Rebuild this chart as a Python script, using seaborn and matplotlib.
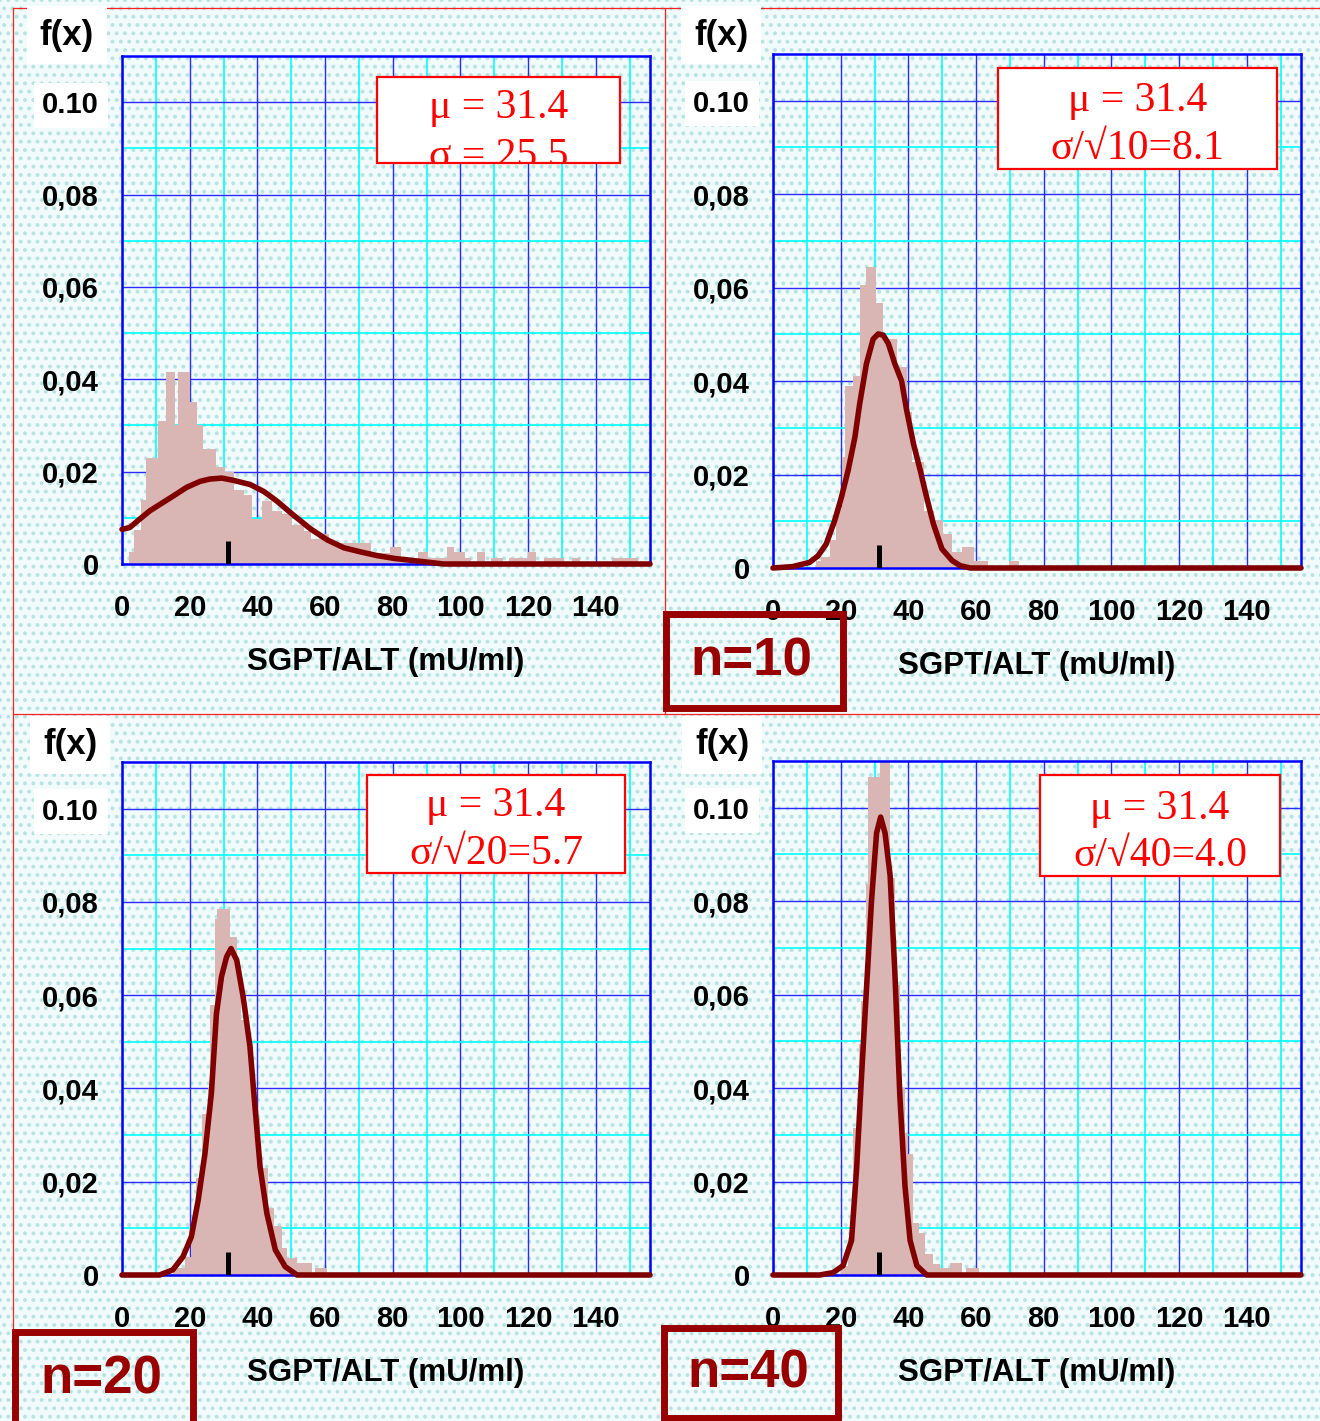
import numpy as np
import pandas as pd
import matplotlib
matplotlib.use("Agg")
import matplotlib.pyplot as plt
import seaborn as sns
from matplotlib.patches import Rectangle
from matplotlib.lines import Line2D

# ---------------- data ----------------
x_ticks = [0, 20, 40, 60, 80, 100, 120, 140]
x_tick_labels = ["0", "20", "40", "60", "80", "100", "120", "140"]
x_minor = [10, 30, 50, 70, 90, 110, 130, 150]
y_ticks = [0, 0.02, 0.04, 0.06, 0.08, 0.10]
y_tick_labels = ["0", "0,02", "0,04", "0,06", "0,08", "0.10"]
y_minor = [0.01, 0.03, 0.05, 0.07, 0.09]
x_label = "SGPT/ALT (mU/ml)"
y_label = "f(x)"
mean_value = 31.4
mean_marker_height = 0.0049

# n = 1 (population)
tl_edges = [2.0, 3.5, 5.5, 7.2, 10.5, 12.9, 15.8, 16.6, 20.1, 22.1, 23.8, 27.8, 30.3,
            33.2, 35.9, 38.4, 41.4, 44.4, 47.3, 50.3, 53.8, 55.7, 58.2, 61.2, 73.6,
            79.3, 82.3, 85.2, 87.4, 90.4, 92.4, 95.9, 98.1, 101.3, 103.0, 104.9, 107.2,
            108.9, 112.7, 114.2, 119.9, 122.3, 124.6, 130.5, 133.0, 135.4, 144.9, 152.6]
tl_heights = [0.0026, 0.0074, 0.0138, 0.023, 0.031, 0.0415, 0.030, 0.0415, 0.035, 0.030,
              0.025, 0.021, 0.020, 0.016, 0.015, 0.0097, 0.0136, 0.0115, 0.0108, 0.0085,
              0.0072, 0.0055, 0.0065, 0.0045, 0.0023, 0.0036, 0.0014, 0.0013, 0.0025,
              0.0013, 0.0013, 0.0036, 0.0025, 0.0013, 0.0, 0.0025, 0.0, 0.0013, 0.0,
              0.0013, 0.0025, 0.0, 0.0013, 0.0, 0.0013, 0.0, 0.0013]
tl_curve_x = [0, 2.3, 5.2, 8.2, 11.2, 15.1, 19.1, 23.1, 26.0, 29.5, 33.0, 37.9, 41.9,
              45.8, 50.3, 55.7, 60.7, 65.6, 70.6, 75.5, 80.5, 85.4, 91.4, 95.0, 156]
tl_curve_y = [0.0075, 0.0079, 0.0097, 0.0115, 0.0129, 0.0147, 0.0166, 0.0179, 0.0184,
              0.0186, 0.0181, 0.0172, 0.0157, 0.0136, 0.0108, 0.0076, 0.0052, 0.0035,
              0.0026, 0.0018, 0.0012, 0.0008, 0.0003, 0.0, 0.0]
tl_stats = ["μ = 31.4", "σ = 25.5"]

# n = 10
tr_edges = [12.8, 14.3, 16.7, 18.7, 20.4, 21.2, 23.7, 25.6, 27.4, 30.4, 32.4, 36.5, 39.5,
            41.0, 44.5, 47.6, 50.2, 52.9, 55.8, 59.3, 63.5, 69.7, 72.7]
tr_heights = [0.0016, 0.0024, 0.006, 0.013, 0.0237, 0.039, 0.041, 0.0605, 0.0644, 0.0567,
              0.049, 0.043, 0.0334, 0.0226, 0.0123, 0.0103, 0.0073, 0.0034, 0.0044,
              0.0014, 0.0, 0.0014]
tr_curve_x = [0, 5.8, 10.8, 13.3, 15.7, 18.2, 20.2, 22.2, 24.2, 25.6, 27.6, 29.6, 31.1,
              32.6, 34.1, 36.0, 38.0, 39.5, 41.5, 43.5, 45.4, 47.4, 49.9, 52.9, 55.3,
              58.3, 156]
tr_curve_y = [0, 0.0003, 0.0012, 0.0026, 0.0051, 0.0101, 0.0151, 0.0209, 0.028, 0.0351,
              0.0437, 0.049, 0.0501, 0.0498, 0.048, 0.0437, 0.040, 0.0337, 0.0266,
              0.0209, 0.0151, 0.0094, 0.0041, 0.0016, 0.0005, 0.0, 0.0]
tr_stats = ["μ = 31.4", "σ/√10=8.1"]

# n = 20
bl_edges = [15.0, 18.5, 20.5, 21.8, 23.5, 25.4, 25.9, 27.4, 28.1, 31.9, 33.9, 35.3, 37.3,
            38.8, 40.8, 43.0, 44.9, 47.2, 48.7, 51.7, 56.1, 57.1, 60.6]
bl_heights = [0.0014, 0.0039, 0.010, 0.0207, 0.0346, 0.040, 0.058, 0.0764, 0.0784, 0.0725,
              0.0655, 0.0546, 0.0496, 0.0336, 0.0229, 0.0143, 0.0104, 0.0057, 0.0036,
              0.0025, 0.0, 0.0016]
bl_curve_x = [0, 11.1, 15.0, 18.0, 20.5, 22.5, 24.5, 26.4, 27.9, 29.4, 30.9, 32.2, 33.9,
              35.8, 37.8, 39.3, 40.8, 42.8, 45.3, 48.2, 51.7, 156]
bl_curve_y = [0, 0, 0.0011, 0.0039, 0.0082, 0.016, 0.026, 0.0389, 0.056, 0.064, 0.0682,
              0.070, 0.0675, 0.0596, 0.049, 0.036, 0.0232, 0.0132, 0.0054, 0.0018, 0.0, 0.0]
bl_stats = ["μ = 31.4", "σ/√20=5.7"]

# n = 40
br_edges = [20.2, 22.2, 23.7, 25.4, 26.1, 27.4, 28.1, 31.6, 34.6, 36.0, 37.5, 39.0, 40.0,
            41.5, 43.0, 45.0, 47.4, 49.4, 52.4, 55.8, 57.1, 60.8]
br_heights = [0.002, 0.008, 0.0315, 0.0495, 0.0587, 0.0836, 0.1066, 0.1103, 0.085, 0.062,
              0.040, 0.0304, 0.0258, 0.0112, 0.0090, 0.0045, 0.0024, 0.0014, 0.0025, 0.0,
              0.0014]
br_curve_x = [0, 13.8, 17.7, 20.7, 23.2, 24.7, 26.1, 27.6, 29.1, 30.6, 31.8, 33.1, 34.6,
              36.0, 37.5, 39.0, 40.5, 42.5, 45.4, 156]
br_curve_y = [0, 0, 0.0005, 0.002, 0.0074, 0.0227, 0.0418, 0.061, 0.080, 0.0946, 0.098,
              0.0946, 0.0855, 0.0648, 0.038, 0.019, 0.0074, 0.002, 0.0, 0.0]
br_stats = ["μ = 31.4", "σ/√40=4.0"]

sample_labels = ["n=10", "n=20", "n=40"]

# ---------------- style ----------------
sns.set_theme(style="white")
plt.rcParams["font.family"] = ["Liberation Sans", "DejaVu Sans"]
plt.rcParams["hatch.linewidth"] = 1.6
plt.rcParams["text.color"] = "black"
plt.rcParams["axes.labelcolor"] = "black"

W, H = 1320, 1421
BAR = "#d9b5b3"
CURVE = "#800000"
BLUE = "#2a2aff"
CYAN = "#00ffff"
SPINE = "#0000ff"
DARKRED = "#990000"
SERIF = ["Liberation Serif", "DejaVu Serif"]


def fx(x):
    return x / W


def fy(y):
    return 1 - y / H


fig = plt.figure(figsize=(W / 100, H / 100), dpi=100)
fig.patch.set_facecolor("white")
fig.patches.append(Rectangle((0, 0), 1, 1, transform=fig.transFigure, facecolor="#f1fbfb",
                             edgecolor="#b9e2e2", hatch="..", lw=0, zorder=-10))

# thin red panel borders
for (x0, y0, x1, y1) in [(13, 8, 13, 1421), (13, 8, 1320, 8), (665, 8, 665, 714),
                         (13, 714, 1320, 714)]:
    fig.add_artist(Line2D([fx(x0), fx(x1)], [fy(y0), fy(y1)], transform=fig.transFigure,
                          color="#ff2020", lw=0.9, zorder=-5))

panels = [
    dict(box=(122, 56, 650, 564), edges=tl_edges, heights=tl_heights, cx=tl_curve_x,
         cy=tl_curve_y, stats=tl_stats, sbox=(377, 77, 620, 163), sbase=(118, 167),
         fxy=(67, 35)),
    dict(box=(773, 54, 1301, 568), edges=tr_edges, heights=tr_heights, cx=tr_curve_x,
         cy=tr_curve_y, stats=tr_stats, sbox=(998, 68, 1277, 169), sbase=(111, 159),
         fxy=(721, 35)),
    dict(box=(122, 762, 650, 1275), edges=bl_edges, heights=bl_heights, cx=bl_curve_x,
         cy=bl_curve_y, stats=bl_stats, sbox=(367, 775, 625, 873), sbase=(816, 864),
         fxy=(70, 745)),
    dict(box=(773, 761, 1301, 1275), edges=br_edges, heights=br_heights, cx=br_curve_x,
         cy=br_curve_y, stats=br_stats, sbox=(1040, 775, 1280, 876), sbase=(819, 866),
         fxy=(722, 745)),
]

for p in panels:
    l, t, r, b = p["box"]
    ax = fig.add_axes([fx(l), fy(b), (r - l) / W, (b - t) / H])
    ax.set_facecolor("none")
    edges = list(p["edges"])
    assert len(edges) == len(p["heights"]) + 1
    centers = [(a + c) / 2 for a, c in zip(edges[:-1], edges[1:])]
    df = pd.DataFrame({"x": centers, "w": p["heights"]})
    sns.histplot(data=df, x="x", weights="w", bins=edges, stat="count", color=BAR,
                 edgecolor="none", linewidth=0, alpha=1, ax=ax, zorder=2)
    sns.lineplot(x=p["cx"], y=p["cy"], color=CURVE, linewidth=4.0, ax=ax, sort=False,
                 estimator=None, zorder=4, clip_on=False)
    ax.vlines(mean_value, 0, mean_marker_height, color="black", lw=3.6, zorder=5)

    ax.set_xlim(0, 156)
    ax.set_ylim(0, 0.11)
    ax.set_xticks(x_ticks, labels=x_tick_labels)
    ax.set_xticks(x_minor, minor=True)
    ax.set_yticks(y_ticks, labels=y_tick_labels)
    ax.set_yticks(y_minor, minor=True)
    ax.set_axisbelow(True)
    ax.grid(which="major", color=BLUE, lw=1.0)
    ax.grid(which="minor", color=CYAN, lw=1.2)
    ax.tick_params(which="major", direction="out", length=6.5, width=1.0, color=BLUE,
                   labelsize=21, labelcolor="black")
    ax.tick_params(axis="y", which="major", pad=10)
    ax.tick_params(axis="x", which="major", pad=15)
    ax.tick_params(which="minor", length=0)
    for lbl in ax.get_xticklabels() + ax.get_yticklabels():
        lbl.set_fontweight("bold")
    ax.get_yticklabels()[-1].set_bbox(dict(facecolor="white", edgecolor="none", pad=6))
    for s in ax.spines.values():
        s.set_color(SPINE)
        s.set_linewidth(1.8)
        s.set_visible(True)
    ax.set_ylabel("")
    ax.set_xlabel(x_label, fontsize=22.5, fontweight="bold", labelpad=18, color="black")

    # y-label f(x) in white box
    fig.text(fx(p["fxy"][0]), fy(p["fxy"][1]), y_label, ha="center", va="center",
             fontsize=25, fontweight="bold", zorder=6, color="black",
             bbox=dict(facecolor="white", edgecolor="none", pad=9))

    # statistics box
    x0, y0, x1, y1 = p["sbox"]
    rect = Rectangle((fx(x0), fy(y1)), (x1 - x0) / W, (y1 - y0) / H,
                     transform=fig.transFigure, facecolor="white", edgecolor="#ff0000",
                     lw=1.6, zorder=5)
    fig.patches.append(rect)
    for txt, base in zip(p["stats"], p["sbase"]):
        tt = fig.text(fx((x0 + x1) / 2), fy(base), txt, ha="center", va="baseline",
                      fontsize=30, color="#ff0000", family=SERIF, zorder=6)
        tt.set_clip_path(rect)

# sample size boxes
for lbl, (x0, y0, x1, y1), cy in zip(sample_labels,
                                     [(666, 614, 843, 708), (15, 1332, 193, 1440),
                                      (664, 1328, 838, 1418)],
                                     [661, 1379, 1373]):
    fig.patches.append(Rectangle((fx(x0), fy(y1)), (x1 - x0) / W, (y1 - y0) / H,
                                 transform=fig.transFigure, facecolor="none",
                                 edgecolor=DARKRED, lw=5, zorder=7))
    fig.text(fx((x0 + x1) / 2 - 3), fy(cy), lbl, ha="center", va="center", fontsize=38,
             fontweight="bold", color=DARKRED, zorder=8)

fig.savefig("out.png", dpi=100)
